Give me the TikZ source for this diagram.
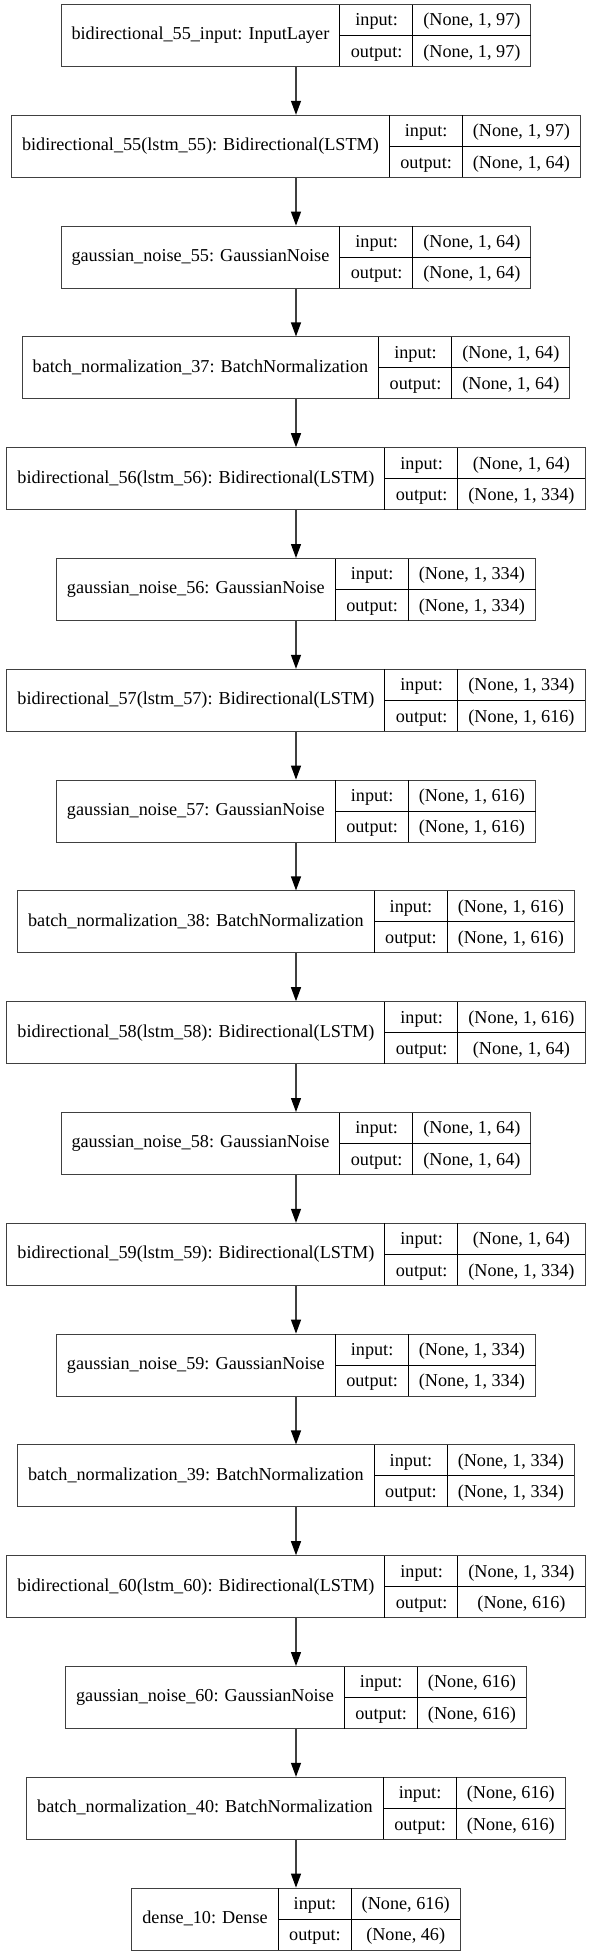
\documentclass[tikz,border=0pt]{standalone}
\usepackage{fontspec}
\setmainfont{Liberation Serif}
\usetikzlibrary{arrows.meta}

\renewcommand{\arraystretch}{1.386}
\setlength{\tabcolsep}{10.5pt}
\setlength{\arrayrulewidth}{1pt}
\newcommand{\layer}[3]{\begin{tabular}{c|@{}c@{}}#1 & \begin{tabular}{c|c}input: & #2\\ \hline output: & #3\end{tabular}\end{tabular}}

\tikzset{
  layerbox/.style={draw=black!75, line width=1pt, inner sep=0pt, font=\fontsize{18.2}{22}\selectfont},
  flow/.style={-{Triangle[length=14pt,width=10pt,fill=black,color=black]}, draw=black!75, line width=1.2pt}
}

\begin{document}
\begin{tikzpicture}[x=1pt, y=1pt]
\useasboundingbox (0,0) rectangle (592,-1955);

\node[layerbox] (in55) at (296, -35.5) {\layer{bidirectional\_55\_input: InputLayer}{(None, 1, 97)}{(None, 1, 97)}};
\node[layerbox] (bi55) at (296, -146.3) {\layer{bidirectional\_55(lstm\_55): Bidirectional(LSTM)}{(None, 1, 97)}{(None, 1, 64)}};
\node[layerbox] (gn55) at (296, -257.1) {\layer{gaussian\_noise\_55: GaussianNoise}{(None, 1, 64)}{(None, 1, 64)}};
\node[layerbox] (bn37) at (296, -367.9) {\layer{batch\_normalization\_37: BatchNormalization}{(None, 1, 64)}{(None, 1, 64)}};
\node[layerbox] (bi56) at (296, -478.7) {\layer{bidirectional\_56(lstm\_56): Bidirectional(LSTM)}{(None, 1, 64)}{(None, 1, 334)}};
\node[layerbox] (gn56) at (296, -589.5) {\layer{gaussian\_noise\_56: GaussianNoise}{(None, 1, 334)}{(None, 1, 334)}};
\node[layerbox] (bi57) at (296, -700.3) {\layer{bidirectional\_57(lstm\_57): Bidirectional(LSTM)}{(None, 1, 334)}{(None, 1, 616)}};
\node[layerbox] (gn57) at (296, -811.1) {\layer{gaussian\_noise\_57: GaussianNoise}{(None, 1, 616)}{(None, 1, 616)}};
\node[layerbox] (bn38) at (296, -921.9) {\layer{batch\_normalization\_38: BatchNormalization}{(None, 1, 616)}{(None, 1, 616)}};
\node[layerbox] (bi58) at (296, -1032.7) {\layer{bidirectional\_58(lstm\_58): Bidirectional(LSTM)}{(None, 1, 616)}{(None, 1, 64)}};
\node[layerbox] (gn58) at (296, -1143.5) {\layer{gaussian\_noise\_58: GaussianNoise}{(None, 1, 64)}{(None, 1, 64)}};
\node[layerbox] (bi59) at (296, -1254.3) {\layer{bidirectional\_59(lstm\_59): Bidirectional(LSTM)}{(None, 1, 64)}{(None, 1, 334)}};
\node[layerbox] (gn59) at (296, -1365.1) {\layer{gaussian\_noise\_59: GaussianNoise}{(None, 1, 334)}{(None, 1, 334)}};
\node[layerbox] (bn39) at (296, -1475.9) {\layer{batch\_normalization\_39: BatchNormalization}{(None, 1, 334)}{(None, 1, 334)}};
\node[layerbox] (bi60) at (296, -1586.7) {\layer{bidirectional\_60(lstm\_60): Bidirectional(LSTM)}{(None, 1, 334)}{(None, 616)}};
\node[layerbox] (gn60) at (296, -1697.5) {\layer{gaussian\_noise\_60: GaussianNoise}{(None, 616)}{(None, 616)}};
\node[layerbox] (bn40) at (296, -1808.3) {\layer{batch\_normalization\_40: BatchNormalization}{(None, 616)}{(None, 616)}};
\node[layerbox] (de10) at (296, -1919.1) {\layer{dense\_10: Dense}{(None, 616)}{(None, 46)}};

\draw[flow] (in55) -- (bi55);
\draw[flow] (bi55) -- (gn55);
\draw[flow] (gn55) -- (bn37);
\draw[flow] (bn37) -- (bi56);
\draw[flow] (bi56) -- (gn56);
\draw[flow] (gn56) -- (bi57);
\draw[flow] (bi57) -- (gn57);
\draw[flow] (gn57) -- (bn38);
\draw[flow] (bn38) -- (bi58);
\draw[flow] (bi58) -- (gn58);
\draw[flow] (gn58) -- (bi59);
\draw[flow] (bi59) -- (gn59);
\draw[flow] (gn59) -- (bn39);
\draw[flow] (bn39) -- (bi60);
\draw[flow] (bi60) -- (gn60);
\draw[flow] (gn60) -- (bn40);
\draw[flow] (bn40) -- (de10);
\end{tikzpicture}
\end{document}
